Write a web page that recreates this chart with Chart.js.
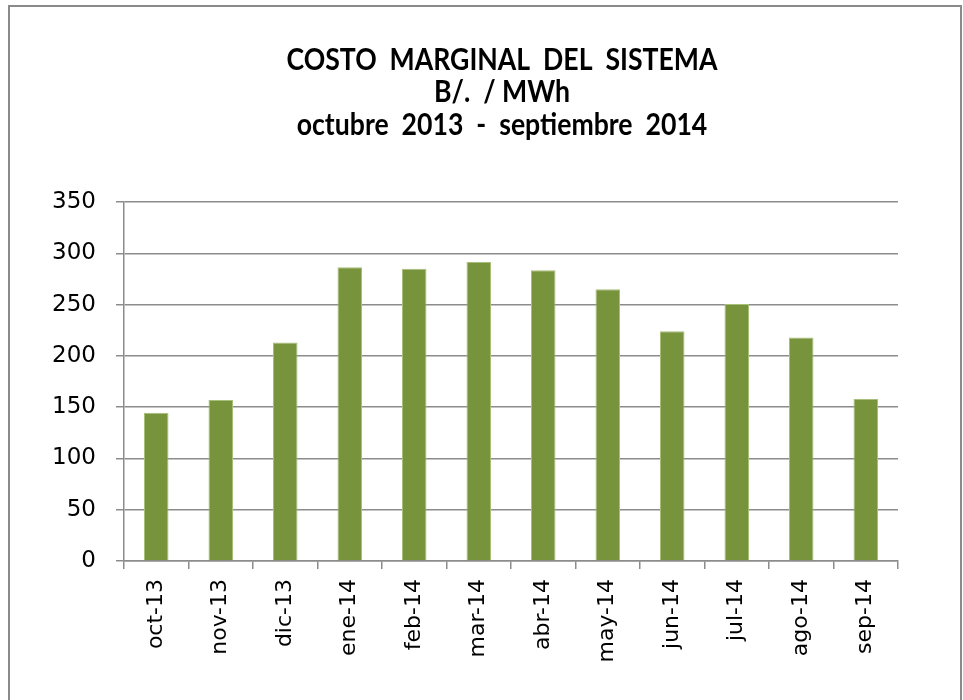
<!DOCTYPE html>
<html>
<head>
<meta charset="utf-8">
<script src="https://cdn.jsdelivr.net/npm/chart.js@4/dist/chart.umd.min.js"></script>
<style>
  html, body { margin: 0; padding: 0; background: #ffffff; }
  #wrap { width: 963px; height: 700px; }
</style>
</head>
<body>
<div id="wrap"><canvas id="c" width="963" height="700"></canvas></div>
<script>
const categories = ["oct-13", "nov-13", "dic-13", "ene-14", "feb-14", "mar-14", "abr-14", "may-14", "jun-14", "jul-14", "ago-14", "sep-14"];
const costoMarginal = [144.5, 157, 213, 286.5, 285, 291.5, 283.5, 265, 224, 250.5, 218, 158];
const titleLines = ["COSTO  MARGINAL  DEL  SISTEMA", "B/.  / MWh", "octubre  2013  -  septiembre  2014"];
const yMin = 0, yMax = 350, yStep = 50;

const gridColor = '#8c8c8c';

const frame = {
  id: 'frame',
  beforeDraw(chart) {
    const ctx = chart.ctx;
    ctx.save();
    ctx.fillStyle = '#ffffff';
    ctx.fillRect(0, 0, chart.width, chart.height);
    ctx.strokeStyle = '#8a8a8a';
    ctx.lineWidth = 2;
    ctx.strokeRect(9, 6, 952, 720);
    ctx.restore();
  }
};

// Title drawn as real text, centred like the reference, with a slight
// horizontal condensing to mimic the narrow original face.
const titleBlock = {
  id: 'titleBlock',
  afterDraw(chart) {
    const ctx = chart.ctx;
    ctx.save();
    ctx.font = "bold 30px Lato, 'Liberation Sans', sans-serif";
    ctx.fillStyle = '#000000';
    ctx.textAlign = 'center';
    ctx.textBaseline = 'alphabetic';
    const w0 = ctx.measureText(titleLines[0]).width;
    const sx = Math.min(1, 431 / w0);
    const cx = 502;
    const baselines = [69.5, 102, 134.5];
    titleLines.forEach((t, i) => {
      ctx.save();
      ctx.translate(cx, baselines[i]);
      ctx.scale(sx, 1);
      ctx.fillText(t, 0, 0);
      ctx.restore();
    });
    ctx.restore();
  }
};

new Chart(document.getElementById('c'), {
  type: 'bar',
  data: {
    labels: categories,
    datasets: [{
      data: costoMarginal,
      backgroundColor: '#77933c',
      borderColor: '#a7bf78',
      borderWidth: 1,
      barPercentage: 0.38,
      categoryPercentage: 1.0
    }]
  },
  options: {
    responsive: false,
    animation: false,
    layout: { padding: { left: 0, right: 65, top: 202, bottom: 0 } },
    plugins: {
      legend: { display: false },
      tooltip: { enabled: false },
      title: { display: false }
    },
    scales: {
      x: {
        afterFit(scale) { scale.height = 139; },
        grid: {
          display: true,
          drawOnChartArea: false,
          drawTicks: true,
          tickLength: 8,
          offset: true,
          color: gridColor,
          lineWidth: 1.5
        },
        border: { display: true, color: gridColor, width: 1.5 },
        ticks: {
          color: '#000000',
          font: { family: "'DejaVu Sans', sans-serif", size: 22 },
          minRotation: 90,
          maxRotation: 90,
          padding: 10,
          autoSkip: false
        }
      },
      y: {
        min: yMin,
        max: yMax,
        afterFit(scale) { scale.width = 124; },
        grid: {
          color: gridColor,
          lineWidth: 1.5,
          tickLength: 8,
          drawTicks: true
        },
        border: { display: true, color: gridColor, width: 1.5 },
        ticks: {
          stepSize: yStep,
          color: '#000000',
          font: { family: "'DejaVu Sans', sans-serif", size: 23 },
          padding: 20
        }
      }
    }
  },
  plugins: [frame, titleBlock]
});
</script>
</body>
</html>
